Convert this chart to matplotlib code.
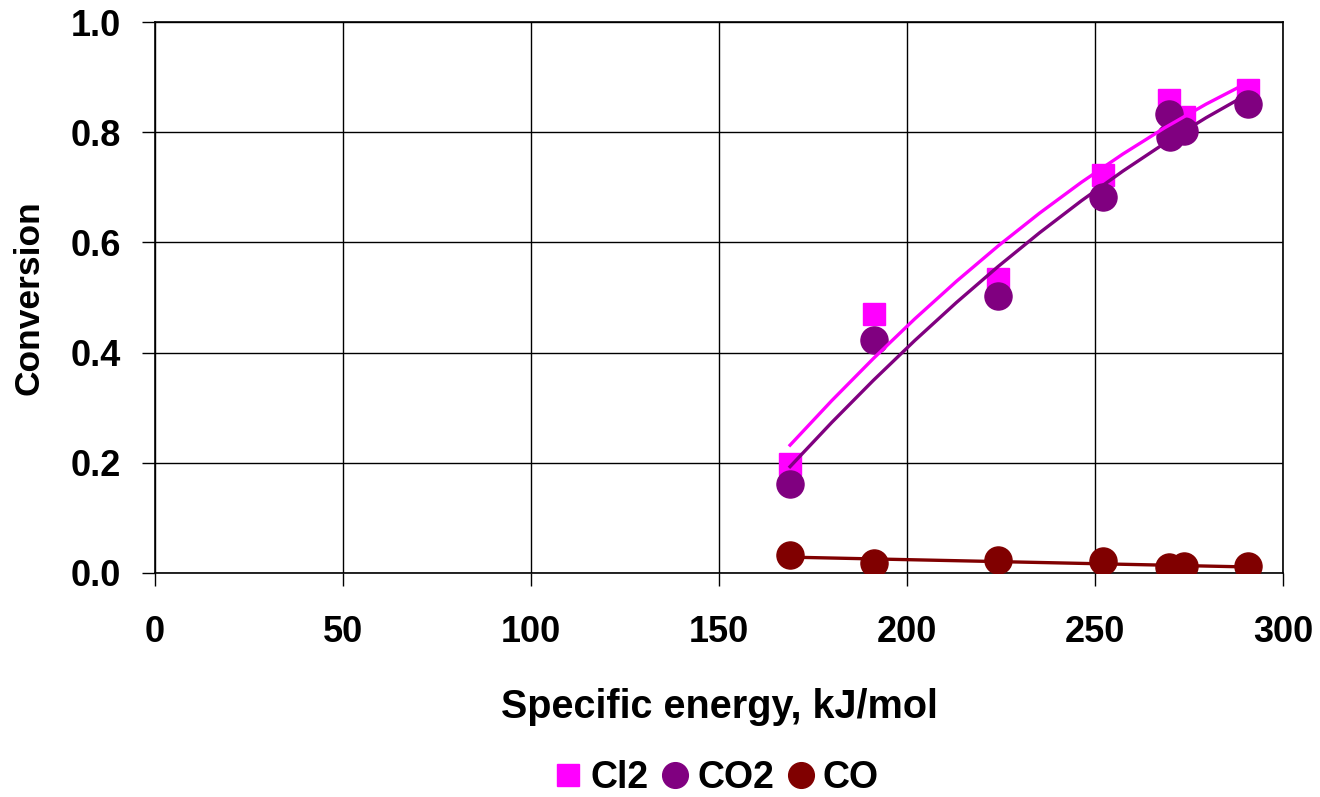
import matplotlib.pyplot as plt
import numpy as np
from matplotlib.lines import Line2D

plt.rcParams["font.family"] = ["Liberation Sans", "DejaVu Sans"]
plt.rcParams["font.weight"] = "bold"

# Specific energy (kJ/mol) for each run
energy = [168.9, 191.2, 224.3, 252.2, 269.8, 270.0, 273.8, 290.6]
energy_cl2 = [168.9, 191.2, 224.3, 252.2, 269.8, 273.8, 290.6]
energy_co = [168.9, 191.2, 224.3, 252.2, 269.8, 273.8, 290.6]

# Conversions
cl2 = [0.197, 0.470, 0.533, 0.723, 0.858, 0.827, 0.877]
co2 = [0.162, 0.422, 0.503, 0.682, 0.833, 0.791, 0.803, 0.852]
co = [0.033, 0.018, 0.023, 0.021, 0.011, 0.012, 0.012]

colors = {"Cl2": "#FF00FF", "CO2": "#800080", "CO": "#800000"}

fig = plt.figure(figsize=(13.2, 7.97), dpi=100)
ax = fig.add_axes([155 / 1320, 1 - 573 / 797, (1283 - 155) / 1320, (573 - 22) / 797])

# Data points
ax.plot(energy_cl2, cl2, "s", color=colors["Cl2"], markersize=16, zorder=3)
ax.plot(energy, co2, "o", color=colors["CO2"], markersize=19.5, zorder=4)
ax.plot(energy_co, co, "o", color=colors["CO"], markersize=19.5, zorder=4)

# Trend lines (fitted to each series)
def trend(xs, ys, deg):
    coef = np.polyfit(xs, ys, deg)
    xx = np.linspace(min(xs), max(xs), 12)
    return xx, np.polyval(coef, xx)

for xs, ys, key, deg in [(energy_cl2, cl2, "Cl2", 2), (energy, co2, "CO2", 2), (energy_co, co, "CO", 1)]:
    xx, yy = trend(xs, ys, deg)
    ax.plot(xx, yy, "-", color=colors[key], lw=2.4, zorder=5)

ax.set_xlim(0, 300)
ax.set_ylim(0, 1.0)
ax.set_xticks(np.arange(0, 301, 50))
ax.set_yticks(np.arange(0, 1.01, 0.2))
ax.yaxis.set_major_formatter(plt.FormatStrFormatter("%.1f"))
ax.grid(True, color="black", lw=1.0)
ax.set_axisbelow(True)
for s in ax.spines.values():
    s.set_color("black")
    s.set_linewidth(1.2)
ax.tick_params(direction="out", length=9.5, width=1.0, labelsize=26)
ax.tick_params(axis="x", pad=21)
ax.tick_params(axis="y", pad=15)

ax.set_xlabel("Specific energy, kJ/mol", fontsize=28.5, fontweight="bold", labelpad=27)
ax.set_ylabel("Conversion", fontsize=25.5, fontweight="bold", labelpad=18)

handles = [
    Line2D([], [], marker="s", ls="", color=colors["Cl2"], markersize=16.5),
    Line2D([], [], marker="o", ls="", color=colors["CO2"], markersize=18.5),
    Line2D([], [], marker="o", ls="", color=colors["CO"], markersize=18.5),
]
fig.legend(handles, ["Cl2", "CO2", "CO"], loc="center", bbox_to_anchor=(717 / 1320, 1 - 778 / 797),
           ncol=3, frameon=False, handlelength=0.7, handletextpad=0.25,
           columnspacing=0.35, borderpad=0.1, prop={"weight": "bold", "size": 27})

fig.savefig("out.png", dpi=100)
